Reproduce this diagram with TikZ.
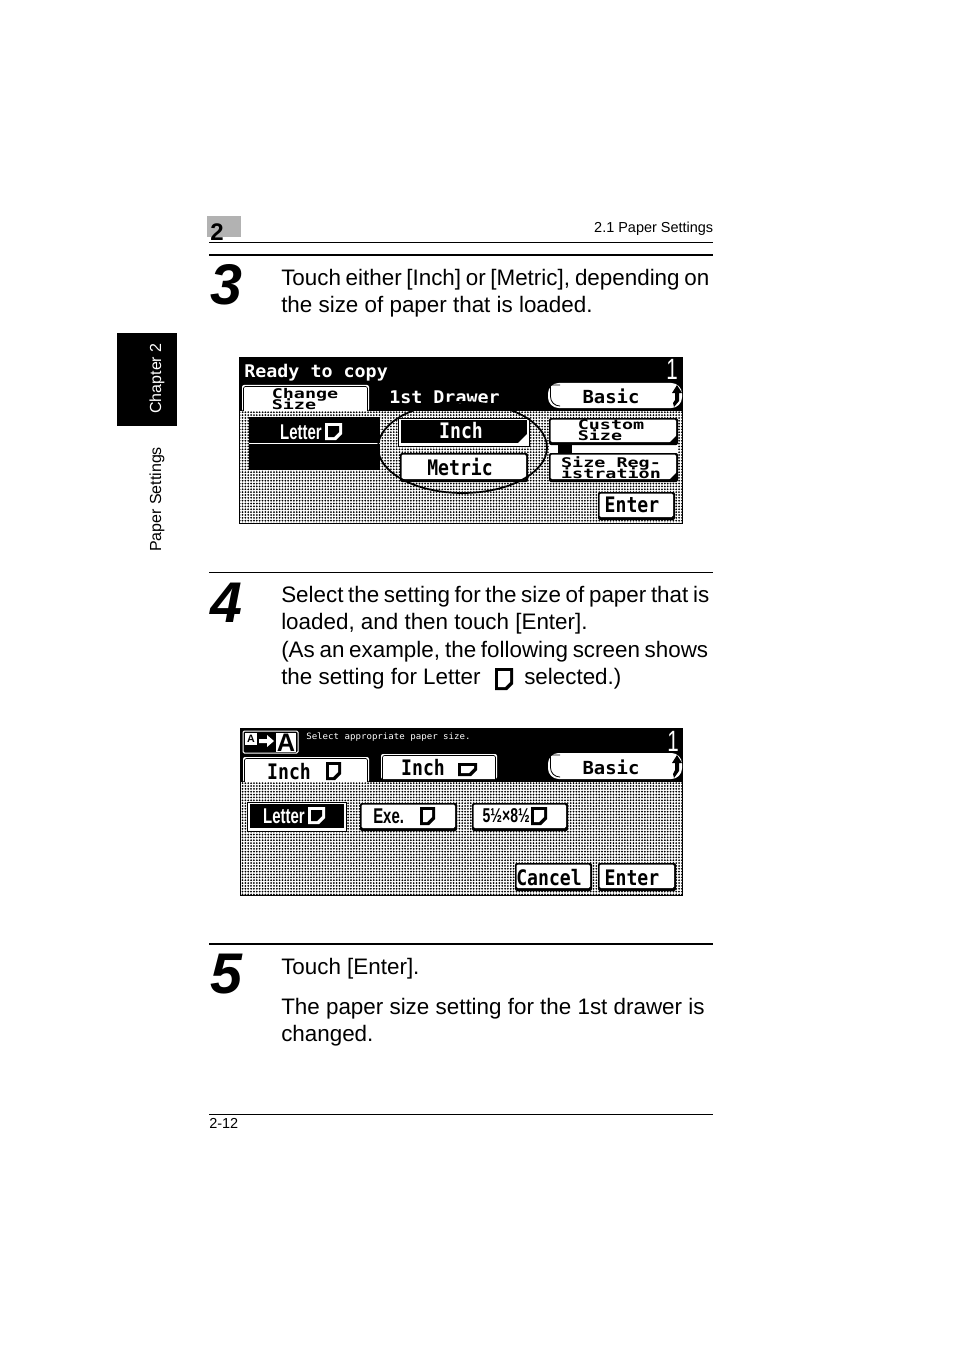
\documentclass[tikz,border=0pt]{standalone}
\usepackage{fontspec}
\usetikzlibrary{patterns.meta}
\setmainfont{Liberation Sans}
\newfontfamily\lcdtall[FakeStretch=0.85]{DejaVu Sans Mono}
\newfontfamily\lcdwide[FakeStretch=1.38]{DejaVu Sans Mono}
\newfontfamily\lcdplain[FakeStretch=1.05]{DejaVu Sans Mono}
\newfontfamily\lcdnarrow[FakeStretch=0.7]{Liberation Sans}
\setlength{\lineskiplimit}{-10pt}
\tikzset{
  bodytext/.style={anchor=base west,inner sep=0pt,font=\fontsize{16.8}{20}\selectfont},
  smalltext/.style={inner sep=0pt,font=\fontsize{10.85}{13}\selectfont},
  sidetext/.style={inner sep=0pt,rotate=90,font=\fontsize{12}{14}\selectfont},
  stepnum/.style={anchor=base west,inner sep=0pt,font=\fontsize{43}{43}\selectfont\bfseries\itshape},
  keytext/.style={inner sep=0pt,font=\lcdtall\bfseries\fontsize{16}{16}\selectfont},
  keysmall/.style={inner sep=0pt,align=left,font=\lcdwide\bfseries\fontsize{10}{8.5}\selectfont},
  basictext/.style={inner sep=0pt,font=\lcdplain\bfseries\fontsize{13.5}{13.5}\selectfont},
  sizetext/.style={inner sep=0pt,font=\lcdnarrow\bfseries\fontsize{16}{16}\selectfont},
  counttext/.style={inner sep=0pt,white,font=\lcdnarrow\fontsize{22}{22}\selectfont},
  dither/.style={pattern={Dots[distance=2.14pt,radius=0.75pt]},pattern color=black},
}
% line of body text set to the width it has on the page
\newcommand{\fitline}[2]{\makebox[#2pt][s]{#1}}
% key with a hard shadow on its right and lower edge
\newcommand{\keybox}[4]{
  \fill[black,rounded corners=1.5pt] (#1,#2) rectangle (#3,#4);
  \fill[white,rounded corners=1pt] (#1+1.5,#2+1.5) rectangle (#3-2,#4-3);
}
% key that is switched on
\newcommand{\keyon}[4]{
  \fill[black] (#1,#2) rectangle (#3,#4);
  \fill[white] (#1+1,#2+1) rectangle (#3-1,#4-1);
  \fill[black] (#1+2.5,#2+2) rectangle (#3-3,#4-4);
}
% small corner mark of a key
\newcommand{\keymark}[3]{
  \fill[#3] (#1,#2) -- (#1-9,#2) -- (#1,#2-9) -- cycle;
}
% tab above the dotted field
\newcommand{\tabkey}[4]{
  \fill[white,rounded corners=1.5pt] (#1,#4) -- (#1,#2) -- (#3,#2) -- (#3,#4) -- cycle;
  \draw[black,line width=0.5pt,rounded corners=1.5pt] (#1+1.5,#4) -- (#1+1.5,#2+1.5) -- (#3-1.5,#2+1.5) -- (#3-1.5,#4);
}
% long key at the top right, with its arrow
\newcommand{\basickey}[2]{
  \fill[white,rounded corners=8pt] (548,#1) rectangle (682,#2);
  \draw[black,line width=0.6pt,rounded corners=7pt] (550.5,#1+2) -- (560,#1+2) (560,#2-2) -- (550.5,#2-2) -- (550.5,#1+2);
  \fill[black] (677,#1+2) -- (682,#1+10) -- (679,#1+10) -- (679,#1+18) -- (674,#2-1) -- (673,#2-5) -- (675,#1+17) -- (675,#1+10) -- (672,#1+10) -- cycle;
}
% sheet of paper, cut at the lower right
\newcommand{\pageicon}[6]{
  \fill[#5] (#1,#2) -- (#3,#2) -- (#3,#4-6) -- (#3-6,#4) -- (#1,#4) -- cycle;
  \fill[#6] (#1+3,#2+3) -- (#3-3,#2+3) -- (#3-3,#4-8) -- (#3-8,#4-3) -- (#1+3,#4-3) -- cycle;
}
\begin{document}
\begin{tikzpicture}[x=0.75pt,y=-0.75pt]
\useasboundingbox (0,0) rectangle (954,1351);
% Page head
\fill[black!30] (207,216) rectangle (241,237);
\node (chapnum) [anchor=base west,inner sep=0pt,font=\fontsize{18}{18}\selectfont\bfseries] at (210,241) {2};
\draw[line width=0.75pt] (209,242.5) -- (713,242.5);
\node (headtext) [smalltext,anchor=base east] at (713.5,233) {2.1 Paper Settings};
% Side tab
\fill[black] (117,333) rectangle (177,426);
\node (chaptertab) [sidetext,white,anchor=base] at (161,378.5) {Chapter 2};
\node (papertab) [sidetext,anchor=base] at (161,499.5) {Paper Settings};

% Step 3
\draw[line width=1.5pt] (209,255) -- (713,255);
\node (numthree) [stepnum] at (210,305) {3};
\node (lineA) [bodytext] at (281,286) {\fitline{Touch either [Inch] or [Metric], depending on}{321}};
\node (lineB) [bodytext] at (281,313) {the size of paper that is loaded.};

% First screen
\fill[black] (239,357) rectangle (683,524);
\fill[white] (240,411) rectangle (682,523);
\fill[dither] (240,411) rectangle (682,523);
\node (readytext) [anchor=base west,inner sep=0pt,white,font=\lcdplain\bfseries\fontsize{13.1}{13.1}\selectfont] at (244,378) {Ready to copy};
\node (countA) [counttext] at (672,369) {1};
\tabkey{242}{385}{369}{411}
\node (changetext) [keysmall] at (305,399) {Change\\Size};
\node (drawertext) [anchor=base west,inner sep=0pt,white,font=\lcdplain\bfseries\fontsize{13.1}{13.1}\selectfont] at (389,403) {1st Drawer};
\basickey{383}{408}
\node (basicA) [basictext] at (611,396) {Basic};
% Current size
\fill[black] (249,417) rectangle (380,470);
\draw[white,line width=0.5pt] (249,443.5) -- (380,443.5);
\node (letterA) [sizetext,white,anchor=east] at (322,432) {Letter};
\pageicon{325}{423}{342}{440}{white}{black}
% Inch and Metric keys
\keyon{398}{418}{530}{447}
\keymark{527}{443}{white}
\node (inchkey) [keytext,white] at (461,431) {Inch};
\keybox{400}{453}{528}{482}
\node (metrickey) [keytext] at (460,467) {Metric};
% Custom size and registration
\fill[white] (549,445) rectangle (678,453);
\fill[black] (558,445) rectangle (572,453);
\keybox{549}{418}{678}{445}
\keymark{677}{444}{black}
\node (customtext) [keysmall] at (611,430) {Custom\\Size};
\keybox{549}{453}{678}{482}
\keymark{677}{481}{black}
\node (regtext) [keysmall] at (611,468) {Size Reg-\\istration};
\keybox{598}{492}{675}{520}
\node (enterA) [keytext] at (632,505) {Enter};
% Ring round the two keys
\draw[line width=1.3pt] (462.5,447.5) ellipse [x radius=84.5,y radius=45.5];

% Step 4
\draw[line width=0.75pt] (209,572.5) -- (713,572.5);
\node (numfour) [stepnum] at (210,622) {4};
\node (lineC) [bodytext] at (281,602) {\fitline{Select the setting for the size of paper that is}{321}};
\node (lineD) [bodytext] at (281,629) {loaded, and then touch [Enter].};
\node (lineE) [bodytext] at (281,657) {\fitline{(As an example, the following screen shows}{320.25}};
\node (lineF) [bodytext] at (281,684) {the setting for Letter};
\pageicon{495}{668}{513}{690}{black}{white}
\node (lineG) [bodytext] at (524,684) {selected.)};

% Second screen
\fill[black] (240,728) rectangle (683,896);
\fill[white] (241,782) rectangle (682,895);
\fill[dither] (241,782) rectangle (682,895);
% Zoom sign
\draw[white,line width=0.75pt,rounded corners=1pt] (243,731) rectangle (298,753);
\fill[white] (245,733) rectangle (257,745);
\node (smallA) [inner sep=0pt,font=\bfseries\fontsize{8}{8}\selectfont] at (251,739) {A};
\fill[white] (259,739) -- (267,739) -- (267,735) -- (274,741) -- (267,747) -- (267,743) -- (259,743) -- cycle;
\fill[white] (276,733) rectangle (296,752);
\node (largeA) [inner sep=0pt,font=\bfseries\fontsize{19}{19}\selectfont] at (286,742.5) {A};
\node (selecttext) [anchor=base west,inner sep=0pt,white,font=\lcdplain\fontsize{6.5}{6.5}\selectfont] at (306,739) {Select appropriate paper size.};
\node (countB) [counttext] at (673,741) {1};
% Tabs
\tabkey{243}{757}{369}{782}
\node (inchtabA) [keytext] at (289,772) {Inch};
\pageicon{326}{762}{341}{780}{black}{white}
\tabkey{381}{754}{497}{779}
\node (inchtabB) [keytext] at (423,768) {Inch};
\pageicon{458}{763}{477}{776}{black}{white}
\basickey{753}{779}
\node (basicB) [basictext] at (611,767) {Basic};
% Paper sizes
\keyon{247}{802}{347}{832}
\node (letterB) [sizetext,white,anchor=east] at (305,816) {Letter};
\pageicon{308}{807}{325}{824}{white}{black}
\keybox{360}{803}{457}{831}
\node (exekey) [sizetext,anchor=west] at (373,816) {Exe.};
\pageicon{420}{807}{435}{825}{black}{white}
\keybox{472}{803}{568}{831}
\node (halfkey) [sizetext,anchor=east,font=\lcdnarrow\bfseries\fontsize{15}{15}\selectfont] at (530,816) {5½×8½};
\pageicon{531}{807}{547}{825}{black}{white}
% Lower keys
\keybox{515}{863}{592}{891}
\node (cancelkey) [keytext] at (549,878) {Cancel};
\keybox{598}{863}{676}{891}
\node (enterB) [keytext] at (632,878) {Enter};

% Step 5
\draw[line width=1.5pt] (209,943.5) -- (713,943.5);
\node (numfive) [stepnum] at (210,993) {5};
\node (lineH) [bodytext] at (281,974) {Touch [Enter].};
\node (lineI) [bodytext] at (281,1014) {The paper size setting for the 1st drawer is};
\node (lineJ) [bodytext] at (281,1041) {changed.};

% Page foot
\draw[line width=0.75pt] (209,1114.5) -- (713,1114.5);
\node (pagenum) [smalltext,anchor=base west] at (209,1128) {2-12};
\end{tikzpicture}
\end{document}
